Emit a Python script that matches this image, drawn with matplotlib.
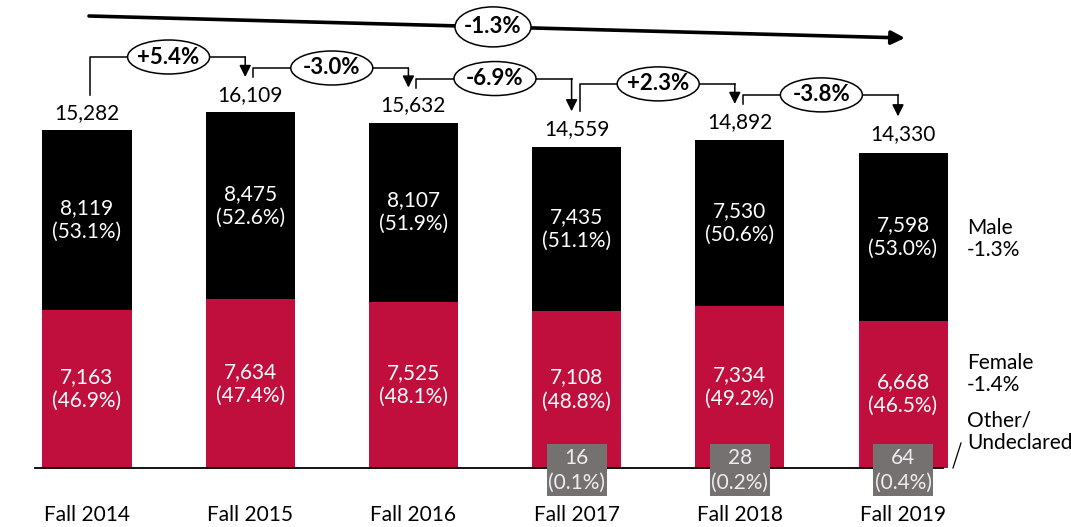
import matplotlib
matplotlib.use("Agg")
import matplotlib.pyplot as plt
from matplotlib.patches import Ellipse, Rectangle

# ---------------- data ----------------
years = ["Fall 2014", "Fall 2015", "Fall 2016", "Fall 2017", "Fall 2018", "Fall 2019"]
totals = [15282, 16109, 15632, 14559, 14892, 14330]
male = [8119, 8475, 8107, 7435, 7530, 7598]
male_pct = [53.1, 52.6, 51.9, 51.1, 50.6, 53.0]
female = [7163, 7634, 7525, 7108, 7334, 6668]
female_pct = [46.9, 47.4, 48.1, 48.8, 49.2, 46.5]
other = [0, 0, 0, 16, 28, 64]
other_pct = [None, None, None, 0.1, 0.2, 0.4]
yoy_change = ["+5.4%", "-3.0%", "-6.9%", "+2.3%", "-3.8%"]
overall_change = "-1.3%"
male_change = "-1.3%"
female_change = "-1.4%"

# ---------------- style ----------------
RED = "#C00F3C"
GREY = "#767171"
FONT = ["Lato", "DejaVu Sans"]
plt.rcParams["font.family"] = FONT

W, H = 1071, 527
fig = plt.figure(figsize=(W / 100, H / 100), dpi=100)
ax = fig.add_axes([0, 0, 1, 1])
ax.axis("off")

XPX = 163.2           # pixels per category
K = 45.25             # data units per pixel (vertical)
X0PX = 87             # pixel position of first category
BASE_PX = 468         # baseline pixel row
ax.set_xlim(-X0PX / XPX, (W - X0PX) / XPX)
ax.set_ylim(-(H - BASE_PX) * K, BASE_PX * K)


def dx(p):
    return p / XPX


def dy(p):
    return p * K


x = list(range(len(years)))
bw = dx(89)

ax.bar(x, female, width=bw, color=RED, zorder=2, linewidth=0)
ax.bar(x, male, width=bw, bottom=female, color="black", zorder=2, linewidth=0)

# baseline
ax.plot([dx(35 - X0PX), dx(943 - X0PX)], [0, 0], color="black", lw=1.3, zorder=3)

for i in x:
    ax.text(i, female[i] / 2, f"{female[i]:,}\n({female_pct[i]:.1f}%)", ha="center", va="center",
            color="white", fontsize=15, linespacing=1.25, zorder=4)
    ax.text(i, female[i] + male[i] / 2, f"{male[i]:,}\n({male_pct[i]:.1f}%)", ha="center", va="center",
            color="white", fontsize=15, linespacing=1.25, zorder=4)
    ax.text(i, totals[i] + dy(17), f"{totals[i]:,}", ha="center", va="center", fontsize=15, color="black")
    ax.text(i, dy(-47), years[i], ha="center", va="center", fontsize=15, color="black")
    if other_pct[i] is not None:
        ax.add_patch(Rectangle((i - dx(30), dy(-28)), dx(60), dy(52), facecolor=GREY, edgecolor="none", zorder=5))
        ax.text(i, dy(-2), f"{other[i]:,}\n({other_pct[i]:.1f}%)", ha="center", va="center",
                color="#EDEDED", fontsize=15, linespacing=1.3, zorder=6)

# year-over-year connectors
EW, EH = dx(82), dy(34)
for i, lab in enumerate(yoy_change):
    xs = i + dx(3)
    xe = i + 1 - dx(5)
    xm = i + 0.5
    ys = totals[i] + dy(35)
    ye = totals[i + 1] + dy(35)
    inc = totals[i + 1] > totals[i]
    lvl = max(totals[i], totals[i + 1]) + dy(55 if inc else 44)
    ax.plot([xs, xs, xm - EW / 2], [ys, lvl, lvl], color="black", lw=1.1, zorder=3)
    ax.plot([xm + EW / 2, xe], [lvl, lvl], color="black", lw=1.1, zorder=3)
    ax.annotate("", xy=(xe, ye), xytext=(xe, lvl),
                arrowprops=dict(arrowstyle="-|>,head_length=0.5,head_width=0.25", color="black", lw=1.1,
                                shrinkA=0, shrinkB=0, mutation_scale=14))
    ax.add_patch(Ellipse((xm, lvl), EW, EH, facecolor="white", edgecolor="black", lw=1.1, zorder=5))
    ax.text(xm, lvl, lab, ha="center", va="center", fontsize=16, fontweight="bold", zorder=6)

# overall trend arrow
top = max(totals)
y_start = top + dy(96)
y_end = y_start - dy(22)
x_start = dx(2)
x_end = len(years) - 1 + dx(2)
ax.annotate("", xy=(x_end, y_end), xytext=(x_start, y_start),
            arrowprops=dict(arrowstyle="-|>", color="black", lw=2.6, shrinkA=0, shrinkB=0,
                            mutation_scale=20))
xm = (x_start + x_end) / 2 + dx(-4)
ym = y_start + (y_end - y_start) * (xm - x_start) / (x_end - x_start)
ax.add_patch(Ellipse((xm, ym), dx(76), dy(40), facecolor="white", edgecolor="black", lw=1.1, zorder=5))
ax.text(xm, ym, overall_change, ha="center", va="center", fontsize=16, fontweight="bold", zorder=6)

# right-hand labels
xr = len(years) - 1 + dx(64)
ax.text(xr, dy(468 - 239), f"Male\n{male_change}", ha="left", va="center", fontsize=15, linespacing=1.15)
ax.text(xr, dy(468 - 374), f"Female\n{female_change}", ha="left", va="center", fontsize=15, linespacing=1.15)
ax.text(xr, dy(468 - 432), "Other/\nUndeclared", ha="left", va="center", fontsize=15, linespacing=1.15)
ax.plot([len(years) - 1 + dx(50), len(years) - 1 + dx(58)], [0, dy(25)], color="black", lw=0.9)

fig.savefig("out.png", dpi=100)
